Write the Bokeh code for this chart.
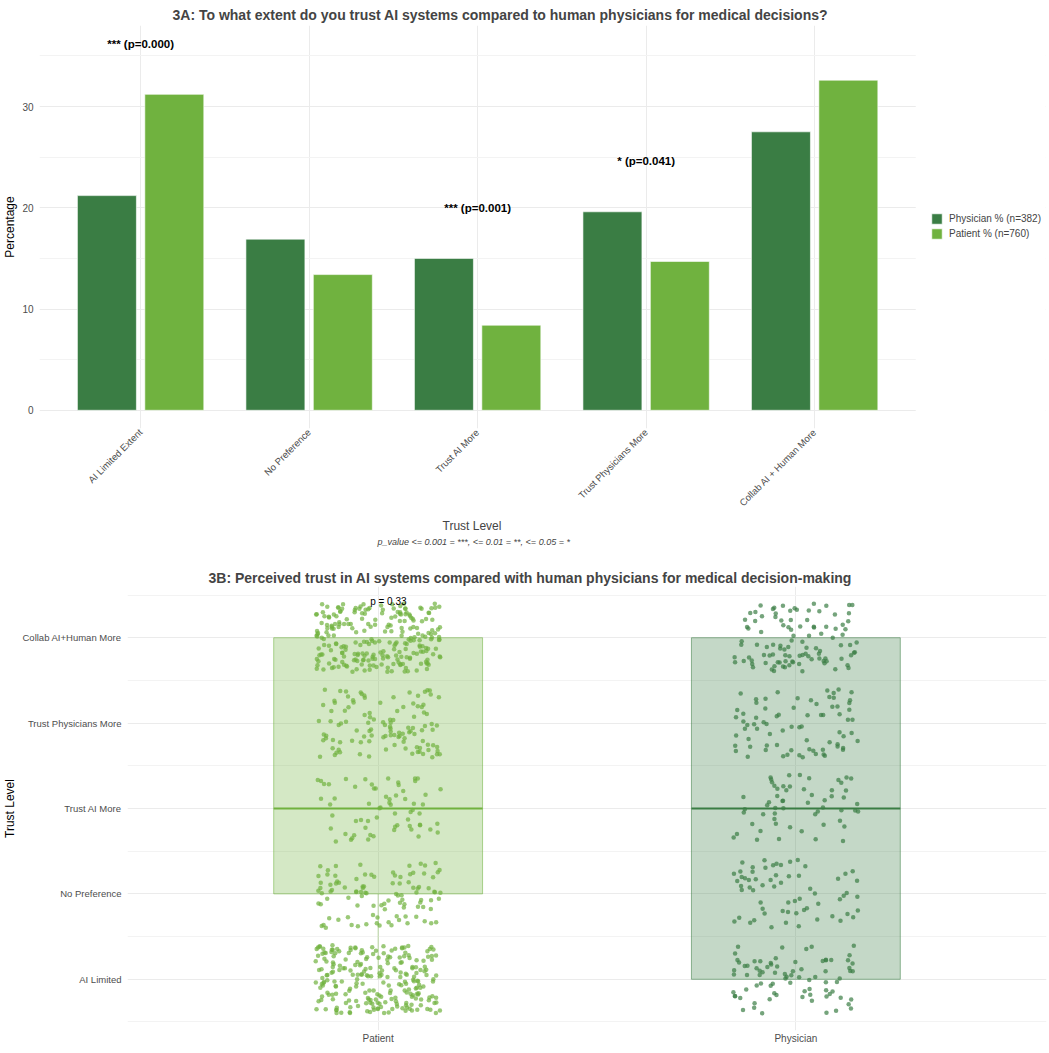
import math
from bokeh.plotting import figure
from bokeh.models import (ColumnDataSource, FactorRange, Range1d, Legend, LegendItem, Title,
                          FixedTicker, BoxAnnotation)
from bokeh.transform import dodge, jitter
from bokeh.core.properties import value
from bokeh.embed import file_html
from bokeh.resources import INLINE

FONT = "Liberation Sans"
DARK = "#3a7d44"
LIGHT = "#70b23f"
GRID = "#ebebeb"

# --- 3A: percentages per trust level
levels = ["AI Limited Extent", "No Preference", "Trust AI More", "Trust Physicians More", "Collab AI + Human More"]
physician_pct = [21.2, 16.9, 15.0, 19.6, 27.5]
patient_pct = [31.2, 13.4, 8.4, 14.7, 32.6]
legend_labels = ["Physician % (n=382)", "Patient % (n=760)"]
sig_levels = ["AI Limited Extent", "Trust AI More", "Trust Physicians More"]
sig_texts = ["*** (p=0.000)", "*** (p=0.001)", "* (p=0.041)"]
caption = "p_value <= 0.001 = ***, <= 0.01 = **, <= 0.05 = *"

# --- 3B: responses per group (counts), box stats
groups = ["Patient", "Physician"]
y_labels = ["AI Limited", "No Preference", "Trust AI More", "Trust Physicians More", "Collab AI+Human More"]
patient_counts = [237, 102, 64, 112, 245]
physician_counts = [81, 64, 57, 75, 105]
box_q1 = [2, 1]
box_median = [3, 3]
box_q3 = [5, 5]
whisker_low = [1, 1]
whisker_high = [5, 5]
p_text = "p = 0.33"


def style(p):
    p.outline_line_color = None
    p.axis.axis_line_color = None
    p.axis.major_tick_line_color = None
    p.axis.minor_tick_line_color = None
    p.axis.major_tick_out = 0
    p.axis.major_tick_in = 0
    p.axis.major_label_text_font = FONT
    p.axis.major_label_text_color = "#4d4d4d"
    p.axis.axis_label_text_font = FONT
    p.axis.axis_label_text_font_style = "normal"
    p.axis.axis_label_text_font_size = "12px"
    p.axis.axis_label_text_color = "black"
    p.axis.major_label_standoff = 2
    p.axis.axis_label_standoff = 2
    p.xgrid.grid_line_color = GRID
    p.ygrid.grid_line_color = GRID
    p.ygrid.minor_grid_line_color = "#f3f3f3"


# ---------------- 3A
# numeric x (one slot per level); frame runs on to the right edge so the legend fits inside it
pos = list(range(1, len(levels) + 1))
p1 = figure(x_range=Range1d(0.4, 6.37), y_range=Range1d(-1.8, 38.0), width=1049, height=560,
            output_backend="svg", toolbar_location=None,
            min_border_left=36, min_border_right=4, min_border_top=25, min_border_bottom=132)
style(p1)

src = ColumnDataSource(dict(pos=pos, phys=physician_pct, pat=patient_pct))
r_phys = p1.vbar(x=dodge("pos", -0.2), top="phys", width=0.35, source=src,
                 fill_color=DARK, line_color="white", line_width=0.6)
r_pat = p1.vbar(x=dodge("pos", 0.2), top="pat", width=0.35, source=src,
                fill_color=LIGHT, line_color="white", line_width=0.6)

# white cover so the grid stops where the ggplot panel ends
p1.add_layout(BoxAnnotation(left=len(levels) + 0.6, fill_color="white", fill_alpha=1,
                            line_color=None, level="underlay"))

sig_x = [pos[levels.index(l)] for l in sig_levels]
sig_y = [max(physician_pct[levels.index(l)], patient_pct[levels.index(l)]) + 5 for l in sig_levels]
p1.text(x=sig_x, y=sig_y, text=sig_texts, text_align="center", text_baseline="middle",
        text_font=value(FONT), text_font_style="bold", text_font_size="11.5px", text_color="black")

p1.xaxis.ticker = FixedTicker(ticks=pos)
p1.xaxis.major_label_overrides = {p: lab for p, lab in zip(pos, levels)}
p1.yaxis.ticker = FixedTicker(ticks=[0, 10, 20, 30], minor_ticks=[5, 15, 25, 35])
p1.yaxis.major_label_text_font_size = "10px"
p1.xaxis.major_label_text_font_size = "9.5px"
p1.xaxis.major_label_orientation = math.pi / 4
p1.yaxis.axis_label = "Percentage"

legend = Legend(items=[LegendItem(label=legend_labels[0], renderers=[r_phys]),
                       LegendItem(label=legend_labels[1], renderers=[r_pat])],
                location=(891, 188), glyph_width=13, glyph_height=13, label_height=13,
                label_standoff=6, spacing=2, padding=0, margin=0,
                label_text_font=FONT, label_text_font_size="10px",
                border_line_color=None, background_fill_alpha=0)
p1.add_layout(legend)

# x label and caption sit under the bar panel, not under the whole (wider) frame
p1.add_layout(Title(text="Trust Level", align="left", offset=403, text_font=FONT,
                    text_font_style="normal", text_font_size="12px", standoff=2), "below")
p1.add_layout(Title(text=caption, align="left", offset=338, text_font=FONT, text_font_style="italic",
                    text_font_size="9px", standoff=3), "below")
p1.add_layout(Title(text="3A: To what extent do you trust AI systems compared to human physicians for medical decisions?",
                    align="left", offset=133, text_font=FONT, text_font_style="bold",
                    text_font_size="14px", standoff=5), "above")

# ---------------- 3B
p2 = figure(x_range=FactorRange(factors=groups, range_padding=0.1, range_padding_units="absolute"),
            y_range=Range1d(0.4, 5.6), width=1049, height=493,
            output_backend="svg", toolbar_location=None,
            min_border_left=125, min_border_right=3, min_border_top=26, min_border_bottom=23)
style(p2)

box = ColumnDataSource(dict(group=groups, q1=box_q1, med=box_median, q3=box_q3,
                            lo=whisker_low, hi=whisker_high, col=[LIGHT, DARK]))
p2.segment(x0="group", y0="lo", x1="group", y1="q1", source=box, line_color="col", line_alpha=0.45)
p2.segment(x0="group", y0="q3", x1="group", y1="hi", source=box, line_color="col", line_alpha=0.45)
p2.vbar(x="group", width=0.5, bottom="q1", top="q3", source=box,
        fill_color="col", fill_alpha=0.3, line_color="col", line_alpha=0.55)
p2.segment(x0=dodge("group", -0.25, range=p2.x_range), y0="med",
           x1=dodge("group", 0.25, range=p2.x_range), y1="med",
           source=box, line_color="col", line_width=2)

for g, counts, colr in [(groups[0], patient_counts, LIGHT), (groups[1], physician_counts, DARK)]:
    gx, gy = [], []
    for i, n in enumerate(counts):
        gx += [g] * n
        gy += [i + 1] * n
    pts = ColumnDataSource(dict(group=gx, lvl=gy))
    p2.scatter(x=jitter("group", width=0.3, range=p2.x_range), y=jitter("lvl", width=0.8),
               source=pts, size=4.5, fill_color=colr, line_color=None, fill_alpha=0.7)

p2.text(x=[groups[0]], y=[len(y_labels) + 0.42], text=[p_text], x_offset=-8,
        text_align="left", text_baseline="middle", text_font=value(FONT),
        text_font_size="10px", text_color="black")

p2.yaxis.ticker = FixedTicker(ticks=list(range(1, len(y_labels) + 1)),
                              minor_ticks=[i + 0.5 for i in range(len(y_labels) + 1)])
p2.yaxis.major_label_overrides = {i + 1: lab for i, lab in enumerate(y_labels)}
p2.yaxis.major_label_text_font_size = "9.5px"
p2.xaxis.major_label_text_font_size = "10px"
p2.yaxis.axis_label = "Trust Level"

p2.add_layout(Title(text="3B: Perceived trust in AI systems compared with human physicians for medical decision-making",
                    align="left", offset=81, text_font=FONT, text_font_style="bold",
                    text_font_size="14px", standoff=1), "above")

# two separate roots so the frames are not aligned to each other
open("out.html", "w").write(file_html([p1, p2], INLINE))
